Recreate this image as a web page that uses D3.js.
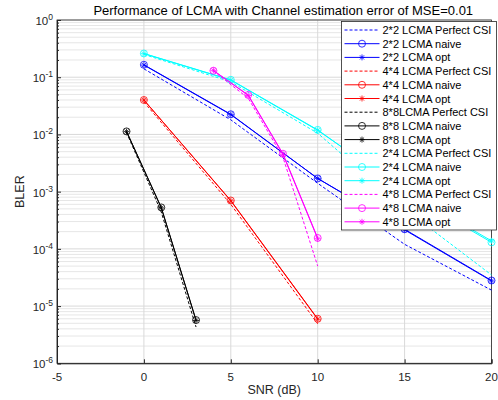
<!DOCTYPE html>
<html>
<head>
<meta charset="utf-8">
<script src="https://cdn.jsdelivr.net/npm/d3@7/dist/d3.min.js"></script>
<style>
  body { margin: 0; padding: 0; background: #fff; }
  svg { font-family: "Liberation Sans", Arial, Helvetica, sans-serif; }
</style>
</head>
<body>
<svg id="chart" width="498" height="400"></svg>
<script>
// ---- data ----
var snr22 = [0, 5, 10, 15, 20];
var snr44 = [0, 5, 10];
var snr88 = [-1, 1, 3];
var snr24 = [0, 5, 10, 15, 20];
var snr48 = [4, 6, 8, 10];

var perf22  = [0.14, 0.018, 0.0014, 1.2e-4, 1.9e-5];
var naive22 = [0.165, 0.0225, 0.0017, 2.2e-4, 2.8e-5];
var opt22   = [0.163, 0.0222, 0.0017, 2.15e-4, 2.75e-5];

var perf44  = [0.037, 6.0e-4, 4.9e-6];
var naive44 = [0.040, 7.0e-4, 6.0e-6];
var opt44   = [0.040, 6.9e-4, 5.9e-6];

var perf88  = [0.0108, 4.4e-4, 4.3e-6];
var naive88 = [0.0113, 5.3e-4, 5.7e-6];
var opt88   = [0.0112, 5.2e-4, 5.6e-6];

var perf24  = [0.25, 0.083, 0.0105, 5e-4, 3.5e-5];
var naive24 = [0.26, 0.09, 0.012, 1.0e-3, 1.3e-4];
var opt24   = [0.258, 0.089, 0.0118, 1.05e-3, 1.38e-4];

var perf48  = [0.128, 0.043, 0.0040, 5e-5];
var naive48 = [0.13, 0.049, 0.0046, 1.55e-4];
var opt48   = [0.132, 0.048, 0.0045, 1.5e-4];

var xTicks = [-5, 0, 5, 10, 15, 20];
var yExps = [0, -1, -2, -3, -4, -5, -6];

var series = [
  {name: "2*2 LCMA Perfect CSI", x: snr22, y: perf22,  color: "#0000ff", kind: "perf"},
  {name: "2*2 LCMA naive",       x: snr22, y: naive22, color: "#0000ff", kind: "naive"},
  {name: "2*2 LCMA opt",         x: snr22, y: opt22,   color: "#0000ff", kind: "opt"},
  {name: "4*4 LCMA Perfect CSI", x: snr44, y: perf44,  color: "#ff0000", kind: "perf"},
  {name: "4*4 LCMA naive",       x: snr44, y: naive44, color: "#ff0000", kind: "naive"},
  {name: "4*4 LCMA opt",         x: snr44, y: opt44,   color: "#ff0000", kind: "opt"},
  {name: "8*8LCMA Perfect CSI",  x: snr88, y: perf88,  color: "#000000", kind: "perf"},
  {name: "8*8 LCMA naive",       x: snr88, y: naive88, color: "#000000", kind: "naive"},
  {name: "8*8 LCMA opt",         x: snr88, y: opt88,   color: "#000000", kind: "opt"},
  {name: "2*4 LCMA Perfect CSI", x: snr24, y: perf24,  color: "#00ffff", kind: "perf"},
  {name: "2*4 LCMA naive",       x: snr24, y: naive24, color: "#00ffff", kind: "naive"},
  {name: "2*4 LCMA opt",         x: snr24, y: opt24,   color: "#00ffff", kind: "opt"},
  {name: "4*8 LCMA Perfect CSI", x: snr48, y: perf48,  color: "#ff00ff", kind: "perf"},
  {name: "4*8 LCMA naive",       x: snr48, y: naive48, color: "#ff00ff", kind: "naive"},
  {name: "4*8 LCMA opt",         x: snr48, y: opt48,   color: "#ff00ff", kind: "opt"}
];

// ---- layout ----
var L = 57, R = 491.5, T = 20, B = 363.3;
var svg = d3.select("#chart");

var x = d3.scaleLinear().domain([-5, 20]).range([L, R]);
var y = d3.scaleLog().domain([1e-6, 1]).range([B, T]);

// minor grid (y)
var minor = [];
for (var e = -6; e < 0; e++) for (var k = 2; k <= 9; k++) minor.push(k * Math.pow(10, e));

var grid = svg.append("g");
grid.selectAll(".ymin").data(minor).enter().append("line")
  .attr("x1", L).attr("x2", R)
  .attr("y1", function(d){ return y(d); }).attr("y2", function(d){ return y(d); })
  .attr("stroke", "#e6e6e6").attr("stroke-width", 1);
grid.selectAll(".ymaj").data(yExps).enter().append("line")
  .attr("x1", L).attr("x2", R)
  .attr("y1", function(d){ return y(Math.pow(10, d)); }).attr("y2", function(d){ return y(Math.pow(10, d)); })
  .attr("stroke", "#d9d9d9").attr("stroke-width", 1);
grid.selectAll(".xmaj").data(xTicks).enter().append("line")
  .attr("y1", T).attr("y2", B)
  .attr("x1", function(d){ return x(d); }).attr("x2", function(d){ return x(d); })
  .attr("stroke", "#d9d9d9").attr("stroke-width", 1);

// axes with inward ticks
var axisCol = "#262626";
var yAx = svg.append("g").attr("transform", "translate(" + L + ",0)")
  .call(d3.axisLeft(y).tickValues(yExps.map(function(d){ return Math.pow(10, d); })).tickSize(-4).tickFormat(""));
var yAxMin = svg.append("g").attr("transform", "translate(" + L + ",0)")
  .call(d3.axisLeft(y).tickValues(minor).tickSize(-2).tickFormat(""));
var xAx = svg.append("g").attr("transform", "translate(0," + B + ")")
  .call(d3.axisBottom(x).tickValues(xTicks).tickSize(-4).tickFormat(""));
[yAx, yAxMin, xAx].forEach(function(g){
  g.selectAll("path").attr("stroke", axisCol);
  g.selectAll("line").attr("stroke", axisCol);
});
yAxMin.select("path").remove();

// box
svg.append("rect").attr("x", L).attr("y", T).attr("width", R - L).attr("height", B - T)
  .attr("fill", "none").attr("stroke", axisCol).attr("stroke-width", 0.8);

// tick labels
svg.selectAll(".xl").data(xTicks).enter().append("text")
  .attr("x", function(d){ return x(d); }).attr("y", B + 18)
  .attr("text-anchor", "middle").attr("font-size", 11.5).attr("fill", axisCol)
  .text(function(d){ return d; });

var yl = svg.selectAll(".yl").data(yExps).enter().append("text")
  .attr("x", 53).attr("y", function(d){ return y(Math.pow(10, d)) + 5; })
  .attr("text-anchor", "end").attr("font-size", 11.5).attr("fill", axisCol);
yl.append("tspan").text("10");
yl.append("tspan").attr("dy", -5).attr("font-size", 8.5).text(function(d){ return d; });

// axis titles
svg.append("text").attr("x", (L + R) / 2).attr("y", 394).attr("text-anchor", "middle")
  .attr("font-size", 12.5).attr("fill", axisCol).text("SNR (dB)");
svg.append("text").attr("transform", "translate(24," + ((T + B) / 2) + ") rotate(-90)")
  .attr("text-anchor", "middle").attr("font-size", 12.5).attr("fill", axisCol).text("BLER");
svg.append("text").attr("x", (L + R) / 2 + 9).attr("y", 15).attr("text-anchor", "middle")
  .attr("font-size", 13).attr("fill", "#000")
  .text("Performance of LCMA with Channel estimation error of MSE=0.01");

// ---- series ----
var line = d3.line().x(function(d){ return x(d[0]); }).y(function(d){ return y(d[1]); });

function drawMarker(g, kind, color, cx, cy) {
  if (kind === "naive") {
    g.append("circle").attr("cx", cx).attr("cy", cy).attr("r", 3.5)
      .attr("fill", "none").attr("stroke", color).attr("stroke-width", 0.8);
  } else if (kind === "opt") {
    var s = 3;
    g.append("path")
      .attr("d", "M" + (cx - s) + "," + cy + "H" + (cx + s) +
                 "M" + cx + "," + (cy - s) + "V" + (cy + s) +
                 "M" + (cx - s * 0.7) + "," + (cy - s * 0.7) + "L" + (cx + s * 0.7) + "," + (cy + s * 0.7) +
                 "M" + (cx - s * 0.7) + "," + (cy + s * 0.7) + "L" + (cx + s * 0.7) + "," + (cy - s * 0.7))
      .attr("stroke", color).attr("stroke-width", 0.8).attr("fill", "none");
  }
}

var plot = svg.append("g");
series.forEach(function(s){
  var pts = s.x.map(function(v, i){ return [v, s.y[i]]; });
  plot.append("path").datum(pts).attr("d", line)
    .attr("fill", "none").attr("stroke", s.color).attr("stroke-width", 1)
    .attr("stroke-dasharray", s.kind === "perf" ? "3,2" : null);
  pts.forEach(function(p){ drawMarker(plot, s.kind, s.color, x(p[0]), y(p[1])); });
});

// ---- legend ----
var lgX = 341.5, lgY = 21.5, lgW = 155, rowH = 13.7;
var lg = svg.append("g");
lg.append("rect").attr("x", lgX).attr("y", lgY).attr("width", lgW).attr("height", rowH * series.length + 3)
  .attr("fill", "#fff").attr("stroke", axisCol).attr("stroke-width", 0.8);
series.forEach(function(s, i){
  var cy = lgY + 8.5 + i * rowH;
  lg.append("line").attr("x1", lgX + 3).attr("x2", lgX + 38).attr("y1", cy).attr("y2", cy)
    .attr("stroke", s.color).attr("stroke-width", 1)
    .attr("stroke-dasharray", s.kind === "perf" ? "3,2" : null);
  drawMarker(lg, s.kind, s.color, lgX + 20.5, cy);
  lg.append("text").attr("x", lgX + 41).attr("y", cy + 4).attr("font-size", 11)
    .attr("fill", "#000").text(s.name);
});
</script>
</body>
</html>
